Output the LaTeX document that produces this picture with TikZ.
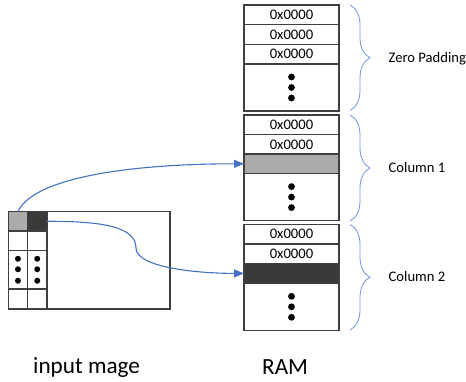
\documentclass[tikz,border=0pt]{standalone}
\usepackage{fontspec}
\setmainfont{Carlito}
\usetikzlibrary{arrows.meta,decorations.pathreplacing}
\definecolor{edge}{HTML}{3F3F3F}
\definecolor{lgray}{HTML}{ADAAAA}
\definecolor{dgray}{HTML}{3A3A3A}
\definecolor{conblue}{HTML}{4472C4}
\definecolor{brblue}{HTML}{6D96D8}
\begin{document}
\begin{tikzpicture}[x=1pt,y=-1pt,
  cell/.style={draw=edge,line width=1.2pt,inner sep=0pt,outer sep=0pt,anchor=north west,minimum width=95pt},
  ramrow/.style={cell,minimum height=19.6pt,font=\fontsize{14.6}{17}\selectfont},
  dotrow/.style={cell,minimum height=47pt},
  imgcell/.style={draw=edge,line width=1.2pt,inner sep=0pt,outer sep=0pt,anchor=north west,minimum width=19.3pt},
  conn/.style={draw=conblue,line width=1.1pt,-{Triangle[length=10pt,width=8pt]}},
  rbrace/.style={draw=brblue,line width=0.8pt,decorate,decoration={brace,amplitude=20pt}},
  lab/.style={anchor=west,inner sep=0pt,font=\fontsize{14.6}{17}\selectfont},
  biglab/.style={anchor=west,inner sep=0pt,font=\fontsize{23.2}{28}\selectfont},
  bdot/.style={fill=black}]
\useasboundingbox (0,0) rectangle (466,381);
% ---- RAM block 1
\node[ramrow] (a1) at (244,5) {0x0000};
\node[ramrow] (a2) at (244,24.6) {0x0000};
\node[ramrow] (a3) at (244,44.4) {0x0000};
\node[dotrow] (a4) at (244,64) {};
% ---- RAM block 2
\node[ramrow] (b1) at (244,115) {0x0000};
\node[ramrow] (b2) at (244,134.6) {0x0000};
\node[ramrow,fill=lgray] (b3) at (244,154) {};
\node[dotrow] (b4) at (244,173.6) {};
% ---- RAM block 3
\node[ramrow] (c1) at (244,224.5) {0x0000};
\node[ramrow] (c2) at (244,244) {0x0000};
\node[ramrow,fill=dgray] (c3) at (244,263.6) {};
\node[dotrow] (c4) at (244,283.3) {};
% dots in RAM
\foreach \n in {a4,b4,c4}{
  \fill[bdot] ([yshift=10.5pt]\n.center) circle (3.4);
  \fill[bdot] (\n.center) circle (3.4);
  \fill[bdot] ([yshift=-10.5pt]\n.center) circle (3.4);
}
% ---- input image
\node[draw=edge,line width=1.2pt,inner sep=0pt,outer sep=0pt,anchor=north west,minimum width=161.7pt,minimum height=97.5pt] (img) at (8.3,211.5) {};
\node[imgcell,minimum height=19.5pt,fill=lgray] (p11) at (8.3,211.5) {};
\node[imgcell,minimum height=19.5pt,fill=dgray] (p12) at (27.6,211.5) {};
\node[imgcell,minimum height=19.5pt] (p21) at (8.3,231) {};
\node[imgcell,minimum height=19.5pt] (p22) at (27.6,231) {};
\node[imgcell,minimum height=38.5pt] (p31) at (8.3,250.5) {};
\node[imgcell,minimum height=38.5pt] (p32) at (27.6,250.5) {};
\node[imgcell,minimum height=20pt] (p41) at (8.3,289) {};
\node[imgcell,minimum height=20pt] (p42) at (27.6,289) {};
\foreach \n in {p31,p32}{
  \fill[bdot] ([yshift=11pt]\n.center) circle (3);
  \fill[bdot] ([yshift=0.5pt]\n.center) circle (3);
  \fill[bdot] ([yshift=-11pt]\n.center) circle (3);
}
% ---- connectors
\draw[conn] (p11.north) .. controls +(17,-36) and +(-104,0) .. (b3.west);
\coordinate (m2) at (136,248);
\draw[conn] (p12.east) .. controls +(53,0) and +(0,-22) .. (m2) .. controls +(0,20) and +(-44,0) .. (c3.west);
% ---- braces
\coordinate (z1) at (350,5);   \coordinate (z2) at (350,110.5);
\coordinate (k1) at (350,115); \coordinate (k2) at (350,221);
\coordinate (q1) at (350,224.5); \coordinate (q2) at (350,330);
\draw[rbrace] (z1) -- (z2);
\draw[rbrace] (k1) -- (k2);
\draw[rbrace] (q1) -- (q2);
\node[lab] (lz) at (388.5,59) {Zero Padding};
\node[lab] (lc1) at (388.5,167) {Column 1};
\node[lab] (lc2) at (388.5,276) {Column 2};
% ---- bottom labels
\node[biglab] (lin) at (33,368) {input mage};
\node[biglab] (lram) at (262,367) {RAM};
\end{tikzpicture}
\end{document}
